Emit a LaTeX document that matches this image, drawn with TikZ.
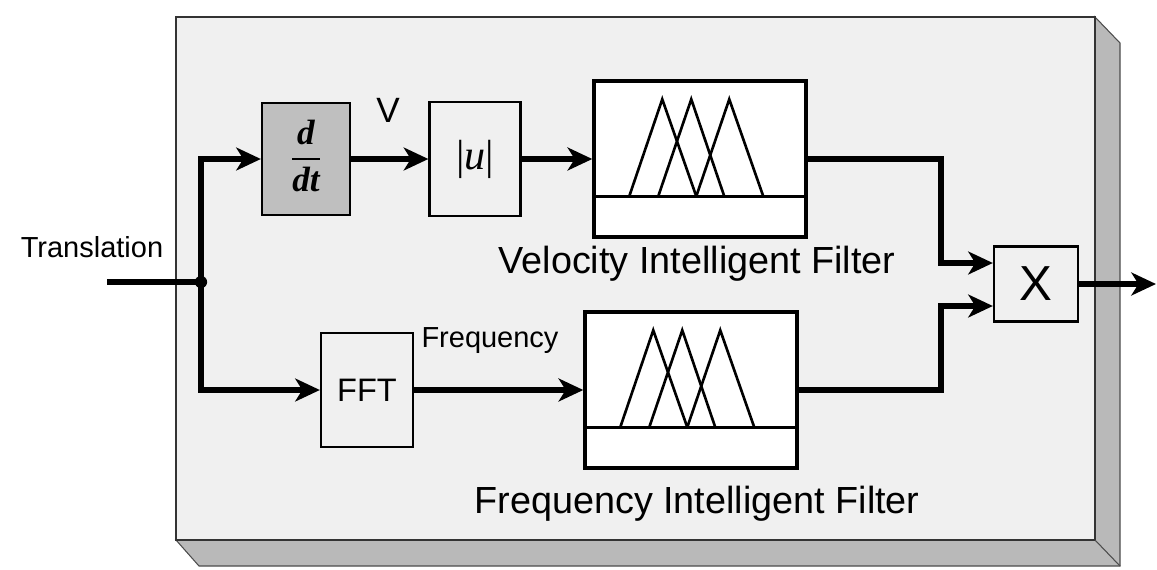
\documentclass[tikz,border=0pt]{standalone}
\usepackage{fontspec}
\setmainfont{Liberation Sans}
\newfontfamily\serifit{Liberation Serif}
\usetikzlibrary{arrows.meta}

\begin{document}
\begin{tikzpicture}[x=0.02cm, y=-0.02cm,
	sig/.style={line width=3.3pt},
	arr/.style={sig, -{Stealth[length=14pt,width=13pt,inset=4pt]}},
	block/.style={draw, line width=1.3pt, rectangle, inner sep=0pt},
	fuzzy/.style={draw, line width=2pt, rectangle, fill=white, minimum width=4.24cm, minimum height=3.12cm},
	lbl/.style={inner sep=0pt, anchor=base}]

	\useasboundingbox (0,0) rectangle (1157,569);

	% Panel and its shadow
	\filldraw[fill=gray!55, draw=black!70, line width=0.6pt] (1095,17) -- (1120,43) -- (1120,566) -- (199,566) -- (176,540) -- (1095,540) -- cycle;
	\filldraw[fill=gray!12, draw=black!80, line width=0.8pt] (176,17) rectangle (1095,540);
	\draw[black!70, line width=0.6pt] (1095,540) -- (1120,566);

	% Blocks
	\node (ddt) at (306,159) [block, fill=gray!50, minimum width=1.76cm, minimum height=2.24cm] {\serifit\bfseries\itshape\fontsize{20}{26}\selectfont\setlength{\arrayrulewidth}{1pt}\begin{tabular}{@{}c@{}}d\\\hline dt\end{tabular}};
	\node (absu) at (475,159) [block, minimum width=1.82cm, minimum height=2.28cm] {\serifit\fontsize{24}{24}\selectfont|\textit{u}|};
	\node (vfilt) at (700,159) [fuzzy] {};
	\node (fft) at (367,390) [block, minimum width=1.84cm, minimum height=2.28cm, font=\fontsize{18.5}{18.5}\selectfont] {FFT};
	\node (ffilt) at (691,390) [fuzzy] {};
	\node (mult) at (1036,284) [block, minimum width=1.68cm, minimum height=1.5cm, font=\fontsize{28}{28}\selectfont] {X};

	% Membership functions
	\foreach \flt in {vfilt,ffilt}{
		\begin{scope}[shift={(\flt.north west)}, line width=1.5pt]
			\draw (0,117) -- (212,117);
			\foreach \a/\p/\b in {37/70/104,66/99/132,104/137/171}
				\draw (\a,117) -- (\p,20) -- (\b,117);
		\end{scope}
	}

	% Labels
	\node (trans) at (92,257) [lbl, font=\fontsize{16.5}{16.5}\selectfont] {Translation};
	\node (vel) at (388,122) [lbl, font=\fontsize{20}{20}\selectfont] {V};
	\node (freq) at (490,347) [lbl, font=\fontsize{16.5}{16.5}\selectfont] {Frequency};
	\node (vname) at (697,273) [lbl, font=\fontsize{21.5}{21.5}\selectfont] {Velocity Intelligent Filter};
	\node (fname) at (697,513) [lbl, font=\fontsize{21.5}{21.5}\selectfont] {Frequency Intelligent Filter};

	% Signals
	\coordinate (in) at (107,282);
	\coordinate (split) at (201,282);
	\coordinate (out) at (1156,284);
	\path (mult.west) ++(0,-21) coordinate (m1) (mult.west) ++(0,22) coordinate (m2);

	\draw[sig] (in) -- (split);
	\fill (split) circle (3.5pt);
	\draw[arr] (split) |- (ddt);
	\draw[arr] (split) |- (fft);
	\draw[arr] (ddt) -- (absu);
	\draw[arr] (absu) -- (vfilt);
	\draw[arr] (fft) -- (ffilt);
	\draw[arr] (vfilt.east) -- ++(133,0) |- (m1);
	\draw[arr] (ffilt.east) -- ++(142,0) |- (m2);
	\draw[arr] (mult) -- (out);

\end{tikzpicture}
\end{document}
